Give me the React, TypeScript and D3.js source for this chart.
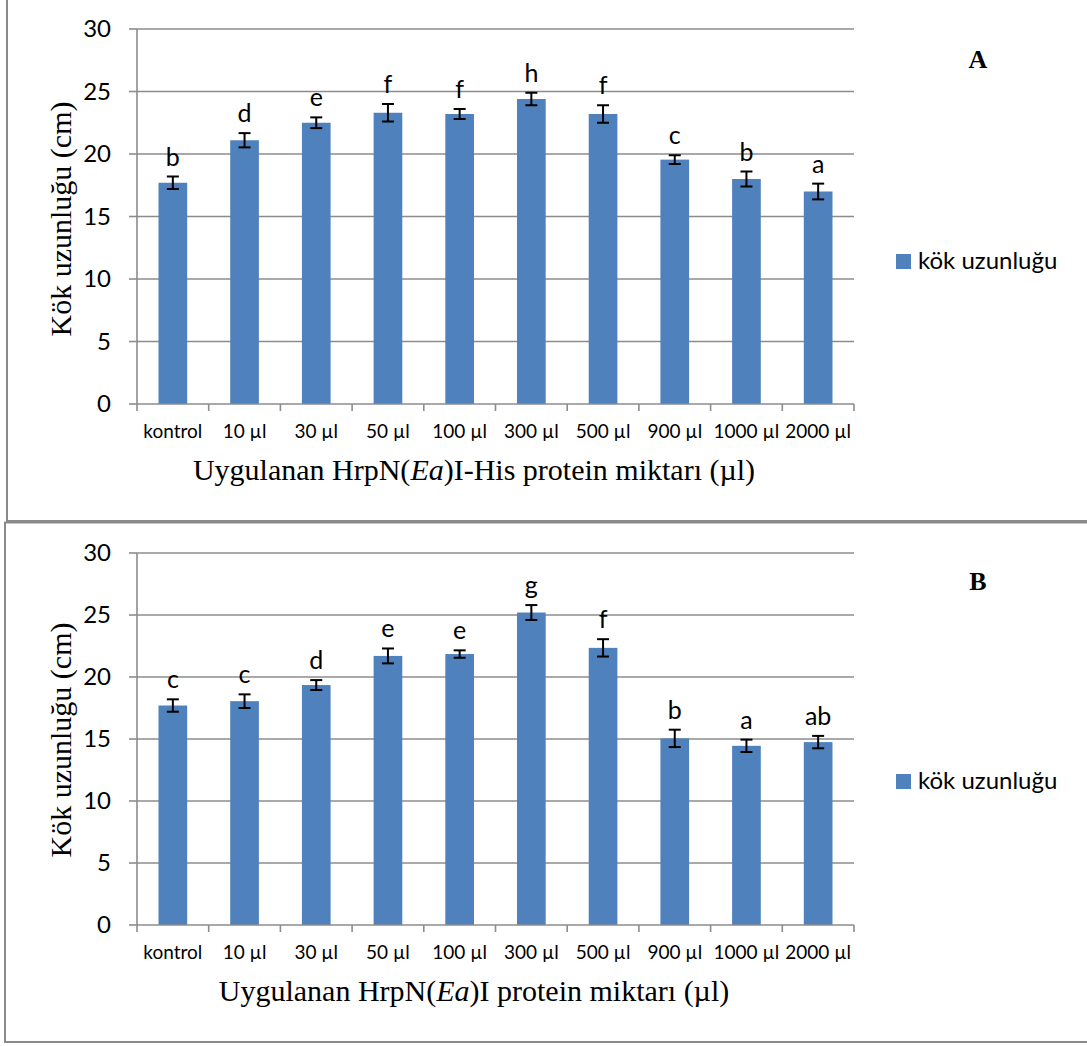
import React, { useEffect, useRef } from 'react';
import * as d3 from 'd3';

const categories = ['kontrol', '10 µl', '30 µl', '50 µl', '100 µl', '300 µl', '500 µl', '900 µl', '1000 µl', '2000 µl'];
const yTicks = [0, 5, 10, 15, 20, 25, 30];

const valuesA = [17.7, 21.1, 22.5, 23.3, 23.2, 24.4, 23.2, 19.55, 18.0, 17.0];
const errorsA = [0.5, 0.57, 0.43, 0.7, 0.4, 0.5, 0.7, 0.35, 0.6, 0.63];
const lettersA = ['b', 'd', 'e', 'f', 'f', 'h', 'f', 'c', 'b', 'a'];

const valuesB = [17.7, 18.05, 19.35, 21.7, 21.85, 25.2, 22.35, 15.05, 14.45, 14.75];
const errorsB = [0.5, 0.55, 0.4, 0.6, 0.3, 0.6, 0.7, 0.7, 0.5, 0.5];
const lettersB = ['c', 'c', 'd', 'e', 'e', 'g', 'f', 'b', 'a', 'ab'];

const BAR = '#4f81bd';
const GRID = '#8c8c8c';
const SANS = 'Lato, "Open Sans", sans-serif';
const SERIF = '"Liberation Serif", "Times New Roman", serif';

interface PanelProps {
  values: number[];
  errors: number[];
  letters: string[];
  top: number;
  bottom: number;
  titleStart: string;
  titleEnd: string;
  titleX: number;
  titleY: number;
  yTitleY: number;
  panelLabel: string;
  panelLabelY: number;
  legendY: number;
}

const Panel: React.FC<PanelProps> = (p) => {
  const gRef = useRef<SVGGElement>(null);

  useEffect(() => {
    if (!gRef.current) return;
    const g = d3.select(gRef.current);
    g.selectAll('*').remove();

    const left = 137, right = 854;
    const x = d3.scaleBand().domain(categories).range([left, right]).paddingInner(0.6).paddingOuter(0.3);
    const y = d3.scaleLinear().domain([0, 30]).range([p.bottom, p.top]);
    const step = (right - left) / categories.length;

    // gridlines
    g.selectAll('line.grid')
      .data(yTicks.filter(t => t > 0))
      .join('line')
      .attr('x1', left).attr('x2', right)
      .attr('y1', d => y(d)).attr('y2', d => y(d))
      .attr('stroke', GRID).attr('stroke-width', 1.6);

    // y axis + ticks
    g.append('line').attr('x1', left).attr('x2', left).attr('y1', p.top).attr('y2', p.bottom)
      .attr('stroke', GRID).attr('stroke-width', 1.6);
    g.selectAll('line.ytick').data(yTicks).join('line')
      .attr('x1', left - 8).attr('x2', left)
      .attr('y1', d => y(d)).attr('y2', d => y(d))
      .attr('stroke', GRID).attr('stroke-width', 1.6);
    g.selectAll('text.ylab').data(yTicks).join('text')
      .attr('x', 111).attr('y', d => y(d))
      .attr('text-anchor', 'end').attr('dy', '0.35em')
      .style('font-family', SANS).style('font-size', '24px')
      .text(d => d);

    // bars
    g.selectAll('rect.bar').data(categories).join('rect')
      .attr('x', d => x(d)!).attr('width', x.bandwidth())
      .attr('y', (d, i) => y(p.values[i]))
      .attr('height', (d, i) => p.bottom - y(p.values[i]))
      .attr('fill', BAR);

    // x axis
    g.append('line').attr('x1', left).attr('x2', right).attr('y1', p.bottom).attr('y2', p.bottom)
      .attr('stroke', GRID).attr('stroke-width', 1.6);
    g.selectAll('line.xtick').data(d3.range(categories.length + 1)).join('line')
      .attr('x1', d => left + d * step).attr('x2', d => left + d * step)
      .attr('y1', p.bottom).attr('y2', p.bottom + 7)
      .attr('stroke', GRID).attr('stroke-width', 1.6);
    g.selectAll('text.xlab').data(categories).join('text')
      .attr('x', d => x(d)! + x.bandwidth() / 2).attr('y', p.bottom + 34)
      .attr('text-anchor', 'middle')
      .style('font-family', SANS).style('font-size', '19px')
      .text(d => d);

    // error bars
    const eb = g.selectAll('g.err').data(categories).join('g')
      .attr('transform', d => `translate(${x(d)! + x.bandwidth() / 2},0)`);
    eb.append('line').attr('x1', 0).attr('x2', 0)
      .attr('y1', (d, i) => y(p.values[i] + p.errors[i]))
      .attr('y2', (d, i) => y(p.values[i] - p.errors[i]))
      .attr('stroke', '#000').attr('stroke-width', 2);
    [1, -1].forEach(s => {
      eb.append('line').attr('x1', -6).attr('x2', 6)
        .attr('y1', (d, i) => y(p.values[i] + s * p.errors[i]))
        .attr('y2', (d, i) => y(p.values[i] + s * p.errors[i]))
        .attr('stroke', '#000').attr('stroke-width', 2);
    });
    eb.append('text')
      .attr('y', (d, i) => y(p.values[i] + p.errors[i]) - 11)
      .attr('text-anchor', 'middle')
      .style('font-family', SANS).style('font-size', '25px')
      .text((d, i) => p.letters[i]);
  }, [p]);

  return (
    <g>
      <g ref={gRef} />
      <text x={p.titleX} y={p.titleY} textAnchor="middle" fontFamily={SERIF} fontSize={30}>
        {p.titleStart}<tspan fontStyle="italic">Ea</tspan>{p.titleEnd}
      </text>
      <text transform={`translate(71,${p.yTitleY}) rotate(-90)`} textAnchor="middle" fontFamily={SERIF} fontSize={30}>
        Kök uzunluğu (cm)
      </text>
      <text x={978} y={p.panelLabelY} textAnchor="middle" fontFamily={SERIF} fontSize={26} fontWeight="bold">
        {p.panelLabel}
      </text>
      <rect x={896} y={p.legendY - 7} width={15} height={15} fill={BAR} />
      <text x={918} y={p.legendY} dy="0.35em" fontFamily={SANS} fontSize={24}>kök uzunluğu</text>
    </g>
  );
};

const App: React.FC = () => {
  return (
    <svg width={1087} height={1046} style={{ position: 'absolute', left: 0, top: 0, background: '#fff' }}>
      <rect x={0} y={0} width={1087} height={1046} fill="#fff" />
      <rect x={7} y={-5} width={1100} height={526} fill="none" stroke="#8a8a8a" strokeWidth={2} />
      <rect x={5} y={522.5} width={1100} height={519.5} fill="none" stroke="#8a8a8a" strokeWidth={2} />
      <Panel
        values={valuesA} errors={errorsA} letters={lettersA}
        top={29} bottom={404}
        titleStart="Uygulanan HrpN(" titleEnd=")I-His protein miktarı (µl)"
        titleX={474} titleY={480} yTitleY={219}
        panelLabel="A" panelLabelY={68} legendY={261}
      />
      <Panel
        values={valuesB} errors={errorsB} letters={lettersB}
        top={553} bottom={925}
        titleStart="Uygulanan HrpN(" titleEnd=")I protein miktarı (µl)"
        titleX={474} titleY={1001} yTitleY={740}
        panelLabel="B" panelLabelY={590} legendY={781}
      />
    </svg>
  );
};

export default App;
